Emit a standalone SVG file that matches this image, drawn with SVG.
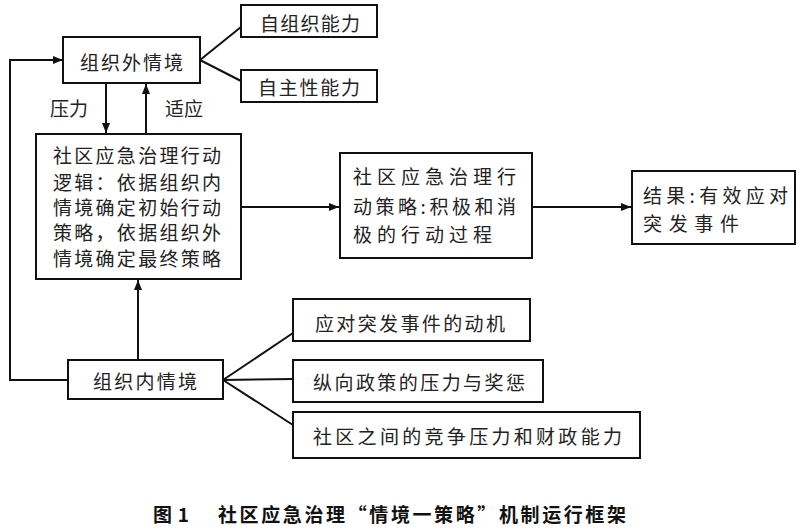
<svg xmlns="http://www.w3.org/2000/svg" width="800" height="532" viewBox="0 0 800 532">
<style>
.box{fill:#fff;stroke:#111;stroke-width:2}
.ln{fill:none;stroke:#111;stroke-width:2}
text{font-family:"Noto Sans CJK SC","Noto Sans CJK JP",sans-serif;font-size:19px;fill:#222;dominant-baseline:central}
.cap{font-size:19px;font-weight:bold;fill:#111}
</style>
<defs>
<marker id="ah" viewBox="0 0 10 10" refX="10" refY="5" markerWidth="5" markerHeight="5" orient="auto" markerUnits="strokeWidth">
<path d="M0,1 L10,5 L0,9 z" fill="#111"/>
</marker>
</defs>
<rect width="800" height="532" fill="#fff"/>
<g id="connectors">
<line class="ln" x1="200" y1="60" x2="241" y2="27"/>
<line class="ln" x1="200" y1="60" x2="241" y2="81"/>
<line class="ln" x1="106" y1="83" x2="106" y2="133" marker-end="url(#ah)"/>
<line class="ln" x1="146" y1="134" x2="146" y2="84" marker-end="url(#ah)"/>
<polyline class="ln" points="68,380 10,380 10,60 63,60" marker-end="url(#ah)"/>
<line class="ln" x1="241" y1="207" x2="339" y2="207" marker-end="url(#ah)"/>
<line class="ln" x1="532" y1="207" x2="631" y2="207" marker-end="url(#ah)"/>
<line class="ln" x1="138" y1="360" x2="138" y2="280" marker-end="url(#ah)"/>
<line class="ln" x1="223" y1="380" x2="293" y2="333"/>
<line class="ln" x1="223" y1="380" x2="293" y2="379"/>
<line class="ln" x1="223" y1="380" x2="293" y2="425"/>
<text x="50" y="107" textLength="38">压力</text>
<text x="165" y="107" textLength="38">适应</text>
</g>
<g id="outer">
<rect class="box" x="63" y="37" width="137" height="46"/>
<text x="80" y="61" textLength="103">组织外情境</text>
</g>
<g id="self-org">
<rect class="box" x="241" y="5" width="136" height="32"/>
<text x="260" y="22" textLength="100">自组织能力</text>
</g>
<g id="autonomy">
<rect class="box" x="241" y="70" width="136" height="32"/>
<text x="258" y="86" textLength="102">自主性能力</text>
</g>
<g id="logic">
<rect class="box" x="36" y="134" width="205" height="145"/>
<text x="53" y="154" textLength="168">社区应急治理行动</text>
<text x="53" y="181" textLength="168">逻辑：依据组织内</text>
<text x="53" y="206" textLength="168">情境确定初始行动</text>
<text x="53" y="231" textLength="168">策略，依据组织外</text>
<text x="53" y="257" textLength="168">情境确定最终策略</text>
</g>
<g id="strategy">
<rect class="box" x="340" y="153" width="192" height="105"/>
<text x="353" y="175" textLength="163">社区应急治理行</text>
<text x="353" y="205" textLength="163">动策略:积极和消</text>
<text x="353" y="233" textLength="139">极的行动过程</text>
</g>
<g id="result">
<rect class="box" x="632" y="171" width="163" height="73"/>
<text x="643" y="194" textLength="145">结果:有效应对</text>
<text x="643" y="222" textLength="96">突发事件</text>
</g>
<g id="inner">
<rect class="box" x="68" y="360" width="155" height="39"/>
<text x="93" y="380" textLength="104">组织内情境</text>
</g>
<g id="motive">
<rect class="box" x="293" y="299" width="237" height="42"/>
<text x="315" y="322" textLength="190">应对突发事件的动机</text>
</g>
<g id="policy">
<rect class="box" x="293" y="360" width="250" height="42"/>
<text x="313" y="381" textLength="212">纵向政策的压力与奖惩</text>
</g>
<g id="competition">
<rect class="box" x="293" y="412" width="347" height="46"/>
<text x="313" y="435" textLength="309">社区之间的竞争压力和财政能力</text>
</g>
<text class="cap" x="153" y="513" textLength="36">图 1</text>
<text class="cap" x="218" y="513" textLength="408">社区应急治理“情境一策略”机制运行框架</text>
</svg>
